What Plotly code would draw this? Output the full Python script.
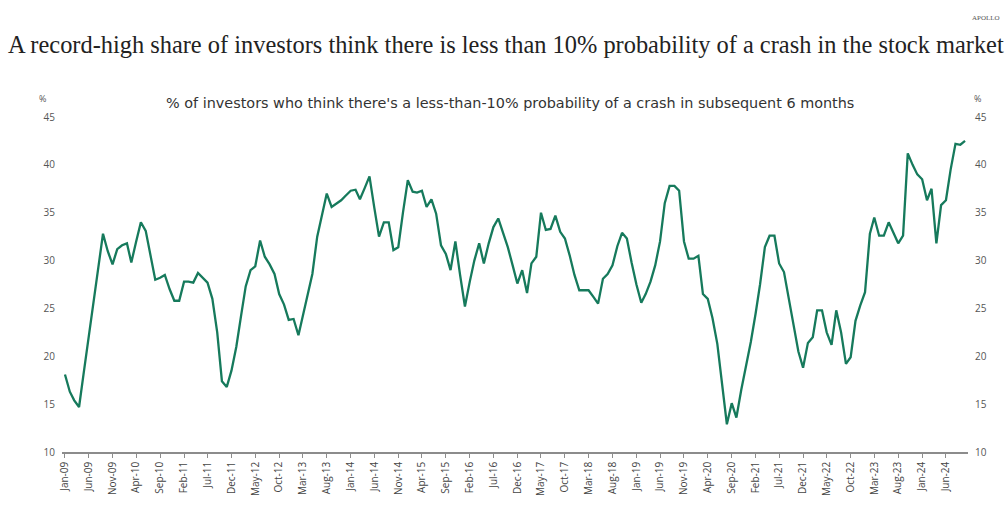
import pandas as pd
import plotly.graph_objects as go

# Monthly share (%) of investors who think there's a less-than-10% probability of a crash, Jan-09 .. Oct-24
VALUES = [
    18.1, 16.3, 15.4, 14.7, 18.3, 21.9, 25.6, 29.2, 32.8, 31.0,  # 2009 Jan-Oct
    29.6, 31.2,                                                  # Nov-Dec 09
    31.6, 31.8, 29.8, 32.0, 34.0, 33.1, 30.5, 28.0, 28.2, 28.5, 27.0, 25.8,  # 2010
    25.8, 27.8, 27.8, 27.7, 28.7, 28.2, 27.7, 26.0, 22.5, 17.4, 16.8, 18.5,  # 2011
    21.0, 24.3, 27.3, 29.0, 29.4, 32.1, 30.4, 29.6, 28.6, 26.5, 25.4, 23.8,  # 2012
    23.9, 22.2, 24.2, 26.3, 28.6, 32.5, 34.8, 37.0, 35.6, 35.9, 36.3, 36.8,  # 2013
    37.3, 37.4, 36.4, 37.6, 38.8, 35.5, 32.5, 34.0, 34.0, 31.1, 31.4, 35.0,  # 2014
    38.4, 37.2, 37.1, 37.3, 35.6, 36.4, 34.9, 31.6, 30.7, 29.0, 32.0, 28.5,  # 2015
    25.2, 27.8, 30.0, 31.8, 29.7, 31.8, 33.5, 34.4, 32.8, 31.4, 29.5, 27.6,  # 2016
    29.0, 26.6, 29.7, 30.4, 35.0, 33.2, 33.3, 34.7, 33.0, 32.3, 30.5, 28.5,  # 2017
    26.9, 26.9, 26.9, 26.2, 25.5, 28.1, 28.6, 29.5, 31.5, 32.9, 32.3, 29.8,  # 2018
    27.5, 25.6, 26.5, 27.8, 29.5, 32.0, 36.0, 37.8, 37.8, 37.3, 32.0, 30.2,  # 2019
    30.2, 30.5, 26.5, 26.0, 24.0, 21.3, 17.0, 12.9, 15.1, 13.6, 16.5, 19.0,  # 2020
    21.5, 24.5, 27.5, 31.4, 32.6, 32.6, 29.7, 28.8, 26.0, 23.0, 20.5, 18.8,  # 2021
    21.4, 22.0, 24.8, 24.8, 22.5, 21.2, 24.8, 22.5, 19.2, 19.9, 23.7, 25.3,  # 2022
    26.7, 32.8, 34.5, 32.6, 32.6, 34.0, 33.0, 31.8, 32.6, 41.2, 40.0, 39.0,  # 2023
    38.5, 36.3, 37.5, 31.8, 35.8, 36.3, 39.5, 42.2, 42.1, 42.5,              # 2024 Jan-Oct
]
START_MONTH = "2009-01-01"

TICK_LABELS = [
    "Jan-09", "Jun-09", "Nov-09", "Apr-10", "Sep-10", "Feb-11", "Jul-11", "Dec-11",
    "May-12", "Oct-12", "Mar-13", "Aug-13", "Jan-14", "Jun-14", "Nov-14", "Apr-15",
    "Sep-15", "Feb-16", "Jul-16", "Dec-16", "May-17", "Oct-17", "Mar-18", "Aug-18",
    "Jan-19", "Jun-19", "Nov-19", "Apr-20", "Sep-20", "Feb-21", "Jul-21", "Dec-21",
    "May-22", "Oct-22", "Mar-23", "Aug-23", "Jan-24", "Jun-24",
]
Y_TICKS = [10, 15, 20, 25, 30, 35, 40, 45]

TITLE = "A record-high share of investors think there is less than 10% probability of a crash in the stock market"
SUBTITLE = "% of investors who think there's a less-than-10% probability of a crash in subsequent 6 months"

dates = pd.date_range(START_MONTH, periods=len(VALUES), freq="MS")
tick_dates = pd.date_range(START_MONTH, periods=len(TICK_LABELS), freq="5MS")

LINE_COLOR = "#167a5c"
TEXT_COLOR = "#555555"
SANS = "Open Sans, Noto Sans, sans-serif"

fig = go.Figure()
fig.add_trace(go.Scatter(
    x=dates, y=VALUES, mode="lines",
    line=dict(color=LINE_COLOR, width=2.3),
    showlegend=False, hoverinfo="x+y",
))
# invisible companion trace so the right-hand axis is drawn
fig.add_trace(go.Scatter(
    x=dates, y=VALUES, yaxis="y2", mode="lines",
    line=dict(width=0), opacity=0, showlegend=False, hoverinfo="skip",
))

x0 = pd.Timestamp("2008-12-13")
x1 = pd.Timestamp("2024-10-20")

fig.update_layout(
    width=1006, height=508,
    margin=dict(l=62, r=38, t=117, b=56),
    paper_bgcolor="white", plot_bgcolor="white",
    xaxis=dict(
        range=[x0, x1],
        tickvals=list(tick_dates), ticktext=TICK_LABELS,
        tickangle=-90,
        tickfont=dict(family=SANS, size=10, color="#444444"),
        showgrid=False, zeroline=False,
        showline=True, linecolor="#8c8c8c", linewidth=1.5,
        ticks="outside", ticklen=4, tickcolor="#8c8c8c", tickwidth=1,
    ),
    yaxis=dict(
        range=[10, 45], tickvals=Y_TICKS,
        tickfont=dict(family=SANS, size=10, color=TEXT_COLOR),
        showgrid=False, zeroline=False, showline=False,
        ticks="", ticklabelstandoff=6,
    ),
    yaxis2=dict(
        range=[10, 45], tickvals=Y_TICKS, overlaying="y", side="right",
        tickfont=dict(family=SANS, size=10, color=TEXT_COLOR),
        showgrid=False, zeroline=False, showline=False,
        ticks="", ticklabelstandoff=6,
    ),
    annotations=[
        dict(text=TITLE, xref="paper", yref="paper", x=-0.0618, y=1.215,
             xanchor="left", yanchor="middle", showarrow=False,
             font=dict(family="Liberation Serif, DejaVu Serif, serif", size=24.4, color="#222222")),
        dict(text="APOLLO", xref="paper", yref="paper", x=1.0375, y=1.2955,
             xanchor="right", yanchor="middle", showarrow=False,
             font=dict(family="Liberation Serif, serif", size=7, color="#555555")),
        dict(text=SUBTITLE, xref="paper", yref="paper", x=0.4945, y=1.042,
             xanchor="center", yanchor="middle", showarrow=False,
             font=dict(family="DejaVu Sans, sans-serif", size=14.4, color="#333333")),
        dict(text="%", xref="paper", yref="paper", x=-0.021, y=1.056,
             xanchor="center", yanchor="middle", showarrow=False,
             font=dict(family=SANS, size=9, color=TEXT_COLOR)),
        dict(text="%", xref="paper", yref="paper", x=1.011, y=1.056,
             xanchor="center", yanchor="middle", showarrow=False,
             font=dict(family=SANS, size=9, color=TEXT_COLOR)),
    ],
)

fig.write_html(
    "out.html",
    config={"displayModeBar": False},
    post_script="document.body.style.margin='0';document.body.style.overflow='hidden';",
)
